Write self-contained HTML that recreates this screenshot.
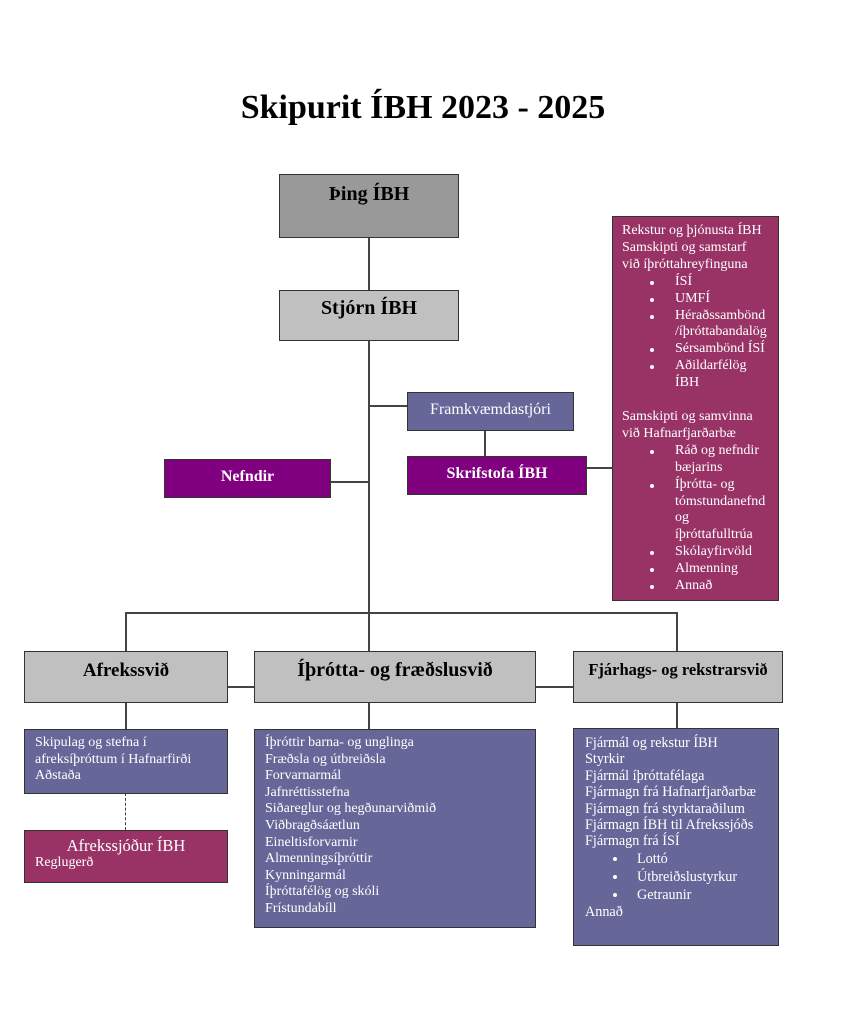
<!DOCTYPE html>
<html><head><meta charset="utf-8"><style>
body{margin:0;width:846px;height:1024px;background:#fff;position:relative;overflow:hidden;font-family:"Liberation Serif",serif}
.b{position:absolute;box-sizing:border-box;border:1.5px solid #333}
.l{position:absolute;background:#444}
.t{position:absolute;white-space:nowrap}
.w{color:#fff;font-size:14px;line-height:16.6px;white-space:nowrap}
.h{font-weight:bold;text-align:center;color:#000}
ul{margin:0;padding:0;list-style:none}
li{position:relative;padding-left:53px}
li:before{content:"";position:absolute;left:28px;top:7px;width:4px;height:4px;border-radius:50%;background:#fff}
</style></head><body>
<div class="t" style="left:0;width:846px;text-align:center;top:89px;font-size:34px;font-weight:bold">Skipurit ÍBH 2023 - 2025</div>

<div class="l" style="left:368px;top:237px;width:1.5px;height:53px"></div>
<div class="l" style="left:368px;top:340px;width:1.5px;height:311px"></div>
<div class="l" style="left:368px;top:405px;width:39px;height:1.5px"></div>
<div class="l" style="left:484px;top:430px;width:1.5px;height:26px"></div>
<div class="l" style="left:330px;top:481px;width:38px;height:1.5px"></div>
<div class="l" style="left:586px;top:467px;width:26px;height:1.5px"></div>
<div class="l" style="left:125px;top:612px;width:552px;height:1.5px"></div>
<div class="l" style="left:125px;top:612px;width:1.5px;height:39px"></div>
<div class="l" style="left:676px;top:612px;width:1.5px;height:39px"></div>
<div class="l" style="left:227px;top:686px;width:27px;height:1.5px"></div>
<div class="l" style="left:535px;top:686px;width:38px;height:1.5px"></div>
<div class="l" style="left:125px;top:702px;width:1.5px;height:27px"></div>
<div class="l" style="left:368px;top:702px;width:1.5px;height:27px"></div>
<div class="l" style="left:676px;top:702px;width:1.5px;height:26px"></div>
<div style="position:absolute;left:125px;top:793px;height:37px;border-left:1.5px dashed #444"></div>

<div class="b h" style="left:279px;top:174px;width:180px;height:64px;background:#999;font-size:20px;padding-top:8px">Þing ÍBH</div>
<div class="b h" style="left:279px;top:290px;width:180px;height:51px;background:#c0c0c0;font-size:20px;padding-top:6px">Stjórn ÍBH</div>
<div class="b" style="left:407px;top:392px;width:167px;height:39px;background:#666699;color:#fff;text-align:center;font-size:16px;padding-top:8px">Framkvæmdastjóri</div>
<div class="b" style="left:407px;top:456px;width:180px;height:39px;background:#800080;color:#fff;text-align:center;font-size:16px;font-weight:bold;padding-top:8px">Skrifstofa ÍBH</div>
<div class="b" style="left:164px;top:459px;width:167px;height:39px;background:#800080;color:#fff;text-align:center;font-size:16px;font-weight:bold;padding-top:8px">Nefndir</div>

<div class="b w" style="left:612px;top:216px;width:167px;height:385px;background:#993366;padding:6px 0 0 9px;font-size:14px;line-height:16.9px">
Rekstur og þjónusta ÍBH<br>Samskipti og samstarf<br>við íþróttahreyfinguna
<ul><li>ÍSÍ</li><li>UMFÍ</li><li>Héraðssambönd<br>/íþróttabandalög</li><li>Sérsambönd ÍSÍ</li><li>Aðildarfélög<br>ÍBH</li></ul>
<br>Samskipti og samvinna<br>við Hafnarfjarðarbæ
<ul><li>Ráð og nefndir<br>bæjarins</li><li>Íþrótta- og<br>tómstundanefnd<br>og<br>íþróttafulltrúa</li><li>Skólayfirvöld</li><li>Almenning</li><li>Annað</li></ul>
</div>

<div class="b h" style="left:24px;top:651px;width:204px;height:52px;background:#c0c0c0;font-size:19px;padding-top:8px">Afrekssvið</div>
<div class="b h" style="left:254px;top:651px;width:282px;height:52px;background:#c0c0c0;font-size:20px;padding-top:7px">Íþrótta- og fræðslusvið</div>
<div class="b h" style="left:573px;top:651px;width:210px;height:52px;background:#c0c0c0;font-size:16.5px;padding-top:8px">Fjárhags- og rekstrarsvið</div>

<div class="b w" style="left:24px;top:729px;width:204px;height:65px;background:#666699;padding:5px 0 0 10px">Skipulag og stefna í<br>afreksíþróttum í Hafnarfirði<br>Aðstaða</div>
<div class="b w" style="left:24px;top:830px;width:204px;height:53px;background:#993366;padding:6px 0 0 10px"><div style="text-align:center;font-size:16.5px;line-height:18px;padding-right:10px">Afrekssjóður ÍBH</div>Reglugerð</div>

<div class="b w" style="left:254px;top:729px;width:282px;height:199px;background:#666699;padding:5px 0 0 10px">Íþróttir barna- og unglinga<br>Fræðsla og útbreiðsla<br>Forvarnarmál<br>Jafnréttisstefna<br>Siðareglur og hegðunarviðmið<br>Viðbragðsáætlun<br>Eineltisforvarnir<br>Almenningsíþróttir<br>Kynningarmál<br>Íþróttafélög og skóli<br>Frístundabíll</div>

<div class="b w" style="left:573px;top:728px;width:206px;height:218px;background:#666699;padding:6px 0 0 11px;font-size:14.2px;line-height:16.4px">Fjármál og rekstur ÍBH<br>Styrkir<br>Fjármál íþróttafélaga<br>Fjármagn frá Hafnarfjarðarbæ<br>Fjármagn frá styrktaraðilum<br>Fjármagn ÍBH til Afrekssjóðs<br>Fjármagn frá ÍSÍ
<ul style="line-height:18px"><li style="padding-left:52px">Lottó</li><li style="padding-left:52px">Útbreiðslustyrkur</li><li style="padding-left:52px">Getraunir</li></ul>Annað</div>
</body></html>
